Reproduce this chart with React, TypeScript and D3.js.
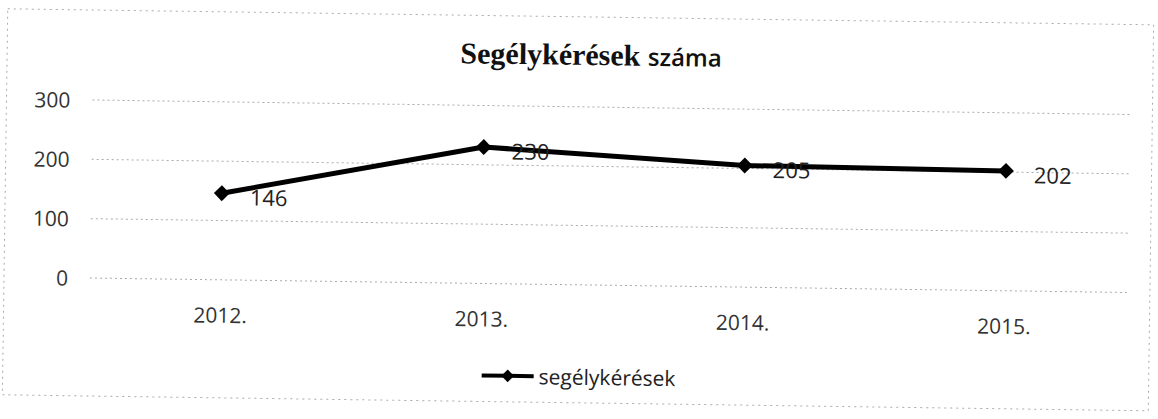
import React from "react";
import * as d3 from "d3";

const categories = ["2012.", "2013.", "2014.", "2015."];
const values = [146, 230, 205, 202];
const yTicks = [0, 100, 200, 300];
const seriesName = "segélykérések";
const titleSerif = "Segélykérések";
const titleSans = "száma";

const W = 1158;
const H = 419;

export default function App() {
  const x = d3.scaleBand<string>().domain(categories).range([90, 1135]);
  const y = d3.scaleLinear().domain([0, 300]).range([278, 100]);
  const cx = (c: string) => (x(c) as number) + x.bandwidth() / 2;
  const line = d3
    .line<number>()
    .x((_, i) => cx(categories[i]))
    .y((v) => y(v));
  const diamond = d3.symbol().type(d3.symbolDiamond2).size(160)();
  const font = "'Open Sans', 'Noto Sans', sans-serif";

  return (
    <svg
      width={W}
      height={H}
      style={{ position: "absolute", left: 0, top: 0, background: "#fff" }}
    >
      <g transform="rotate(0.8, 90, 278)">
        <rect
          x={4}
          y={10}
          width={1146}
          height={386}
          fill="none"
          stroke="#aaa"
          strokeWidth={1}
          strokeDasharray="2,4"
        />
        <text
          x={588}
          y={58}
          textAnchor="middle"
          fontWeight="bold"
          fill="#111"
        >
          <tspan fontFamily="'Liberation Serif', 'Times New Roman', serif" fontSize={30}>
            {titleSerif}{" "}
          </tspan>
          <tspan fontFamily="'Open Sans', sans-serif" fontSize={24} fontWeight={600}>
            {titleSans}
          </tspan>
        </text>
        {yTicks.map((t) => (
          <g key={t}>
            <line
              x1={90}
              x2={1130}
              y1={y(t)}
              y2={y(t)}
              stroke="#aaa"
              strokeWidth={1}
              strokeDasharray="2,3"
            />
            <text
              x={68}
              y={y(t)}
              textAnchor="end"
              dominantBaseline="central"
              fontFamily={font}
              fontSize={21}
              fill="#333"
            >
              {t}
            </text>
          </g>
        ))}
        {categories.map((c) => (
          <text
            key={c}
            x={cx(c)}
            y={313}
            textAnchor="middle"
            dominantBaseline="central"
            fontFamily={font}
            fontSize={21}
            fill="#333"
          >
            {c}
          </text>
        ))}
        <path
          d={line(values) as string}
          fill="none"
          stroke="#000"
          strokeWidth={5}
          strokeLinejoin="round"
        />
        {values.map((v, i) => (
          <g key={i}>
            <path
              d={diamond as string}
              transform={`translate(${cx(categories[i])},${y(v)})`}
              fill="#000"
            />
            <text
              x={cx(categories[i]) + 28}
              y={y(v) + 3}
              dominantBaseline="central"
              fontFamily={font}
              fontSize={22}
              fill="#222"
            >
              {v}
            </text>
          </g>
        ))}
        <g transform="translate(0,370)">
          <line x1={483} x2={535} y1={0} y2={0} stroke="#000" strokeWidth={4} />
          <path d={diamond as string} transform="translate(509,0) scale(0.8)" fill="#000" />
          <text
            x={540}
            y={0}
            dominantBaseline="central"
            fontFamily={font}
            fontSize={21}
            fill="#222"
          >
            {seriesName}
          </text>
        </g>
      </g>
    </svg>
  );
}
